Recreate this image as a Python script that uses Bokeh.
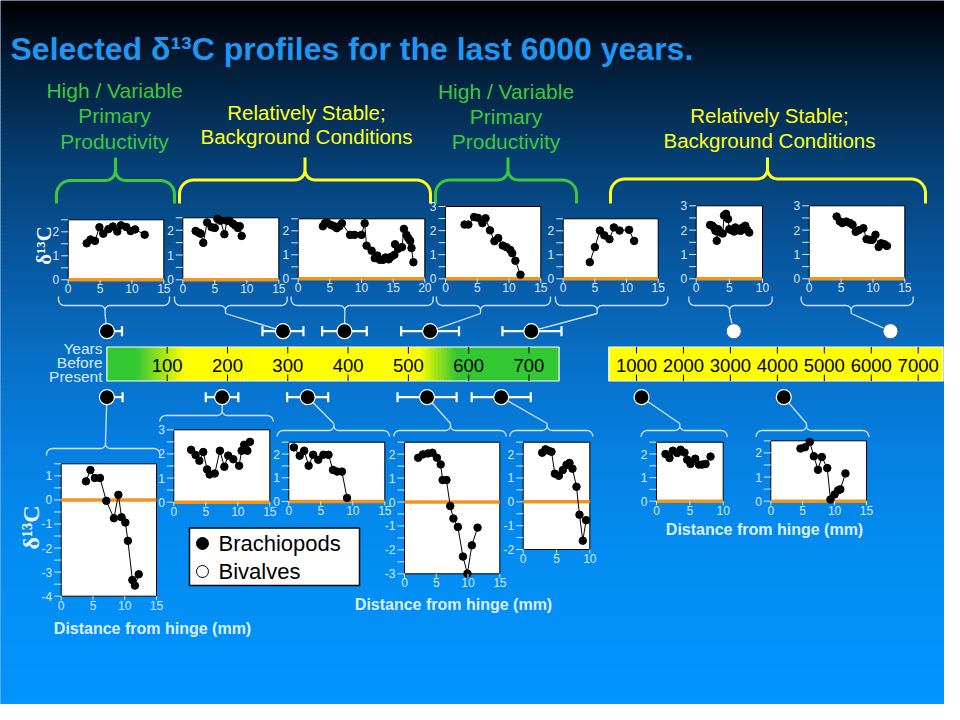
import numpy as np
from bokeh.plotting import figure
from bokeh.models import Range1d
from bokeh.core.properties import value
from bokeh.embed import file_html
from bokeh.resources import INLINE

# ---------------- data ----------------
T1_x = [2.9, 3.5, 4.2, 4.9, 5.5, 6.3, 7.0, 7.7, 8.3, 9.1, 9.8, 10.5, 12.0]
T1_y = [1.52, 1.68, 1.62, 2.19, 1.92, 2.11, 2.22, 2.01, 2.27, 2.20, 2.03, 2.10, 1.88]
T2_x = [2.0, 2.5, 2.8, 3.2, 3.8, 4.5, 5.0, 5.4, 5.9, 6.5, 6.9, 7.3, 7.8, 8.2, 8.6, 8.9, 9.2]
T2_y = [1.97, 1.90, 1.86, 1.49, 2.31, 2.12, 2.09, 2.46, 2.38, 1.84, 2.38, 2.38, 2.27, 2.19, 2.09, 2.16, 1.77]
T3_x = [3.9, 4.2, 4.6, 5.2, 5.7, 6.1, 6.5, 6.9, 8.2, 8.9, 10.0, 10.5, 10.8, 11.6, 12.1, 12.5, 12.9, 13.4,
        13.8, 14.3, 14.7, 15.2, 15.3, 15.8, 16.4, 16.7, 17.1, 17.4, 17.7, 17.9, 18.2]
T3_y = [2.19, 2.31, 2.33, 2.24, 2.19, 2.11, 2.19, 2.31, 1.83, 1.83, 1.83, 2.31, 1.38, 1.17, 0.86, 0.97, 0.79, 0.79,
        0.89, 0.81, 0.92, 1.00, 1.44, 1.25, 1.32, 2.08, 1.83, 1.69, 1.58, 1.28, 0.69]
T4_x = [3.0, 3.6, 4.5, 5.1, 5.8, 6.3, 7.0, 7.7, 8.3, 9.0, 9.6, 10.2, 10.5, 11.0, 11.8]
T4_y = [2.25, 2.25, 2.56, 2.53, 2.31, 2.51, 2.01, 1.56, 1.69, 1.38, 1.31, 1.20, 1.06, 0.75, 0.17]
T5_x = [4.2, 5.0, 5.8, 6.5, 7.3, 8.0, 8.9, 10.4, 11.2]
T5_y = [0.69, 1.32, 2.01, 1.81, 1.65, 2.14, 2.01, 2.04, 1.58]
T6_x = [2.1, 2.4, 2.7, 2.9, 3.1, 3.3, 3.7, 4.0, 4.2, 4.5, 4.8, 5.0, 5.3, 5.7, 5.9, 6.3, 6.7, 7.0, 7.4, 7.7, 8.0]
T6_y = [2.21, 2.19, 2.11, 1.97, 1.56, 2.04, 1.90, 1.86, 2.60, 2.67, 2.46, 2.04, 2.00, 1.94, 2.11, 2.00, 1.97,
        2.11, 2.18, 2.00, 1.90]
T7_x = [4.3, 4.8, 5.2, 5.8, 6.4, 6.8, 7.3, 7.8, 8.5, 9.0, 9.5, 9.9, 10.4, 10.9, 11.3, 11.8, 12.2]
T7_y = [2.56, 2.36, 2.29, 2.35, 2.29, 2.22, 1.93, 2.00, 2.08, 1.63, 1.60, 1.60, 1.81, 1.31, 1.46, 1.42, 1.35]

B1_x = [3.9, 4.6, 5.3, 6.1, 7.1, 8.3, 9.0, 9.5, 10.1, 10.5, 11.2, 11.6, 12.2]
B1_y = [0.77, 1.24, 0.91, 0.91, -0.04, -0.76, 0.21, -0.72, -0.94, -1.70, -3.33, -3.56, -3.09]
B2_x = [2.7, 3.4, 4.0, 4.6, 5.2, 5.6, 6.4, 7.2, 7.9, 8.5, 9.3, 10.2, 10.6, 11.0, 11.5, 11.9]
B2_y = [2.17, 1.96, 1.72, 2.08, 1.36, 1.15, 1.19, 2.13, 1.47, 1.93, 1.78, 1.51, 2.13, 2.38, 2.13, 2.50]
B3_x = [0.8, 1.7, 2.4, 3.1, 3.8, 4.6, 5.4, 6.2, 6.9, 7.55, 8.3, 9.1]
B3_y = [2.28, 1.93, 2.14, 1.51, 1.97, 1.76, 1.97, 1.97, 1.33, 1.26, 1.26, 0.15]
B4_x = [2.15, 2.9, 3.7, 4.4, 5.1, 5.7, 6.0, 6.6, 7.2, 7.7, 8.4, 9.2, 9.9, 10.6, 11.5]
B4_y = [1.85, 1.99, 2.03, 2.06, 1.85, 1.57, 0.92, 0.92, -0.17, -0.69, -1.04, -2.28, -2.99, -1.81, -1.07]
B5_x = [2.85, 3.35, 3.75, 4.25, 4.75, 5.35, 5.95, 6.5, 6.95, 7.4, 8.0, 8.45, 8.95, 9.45]
B5_y = [2.06, 2.20, 2.15, 2.10, 1.18, 1.09, 1.33, 1.55, 1.63, 1.39, 0.63, -0.54, -1.63, -0.77]
B6_x = [1.35, 1.95, 2.45, 3.1, 3.6, 4.2, 4.6, 5.1, 5.8, 6.35, 6.85, 7.35, 8.1]
B6_y = [2.00, 1.83, 2.14, 2.04, 2.18, 2.06, 1.76, 1.58, 1.80, 1.55, 1.55, 1.58, 1.89]
B7_x = [4.65, 5.35, 6.1, 6.75, 7.4, 8.0, 8.85, 9.35, 10.0, 10.55, 10.9, 11.7]
B7_y = [2.18, 2.23, 2.45, 1.86, 1.30, 1.83, 1.37, 0.07, 0.28, 0.45, 0.49, 1.15]

# timeline (years before present)
recent_ticks = [100, 200, 300, 400, 500, 600, 700]
old_ticks = [1000, 2000, 3000, 4000, 5000, 6000, 7000]
top_ages = [0, 292, 394, 536, 704]
top_err_lo = [0, 34, 37, 48, 48]
top_err_hi = [25, 34, 37, 48, 50]
top_bivalve_ages = [3072, 6409]
bot_ages = [0, 191, 333, 531, 654]
bot_err_lo = [0, 27, 34, 49, 49]
bot_err_hi = [26, 27, 34, 49, 49]
bot_old_ages = [1107, 4137]

# ---------------- styles ----------------
FONT = value("Liberation Sans")
SERIF = value("Liberation Serif")
TICK_C = "#d4e8ff"
LINE_C = "#cfe4fb"
ORANGE = "#f0961e"
GREEN = "#3cc83c"
YELLOW = "#ffff22"

p = figure(width=944, height=704, x_range=Range1d(0, 944), y_range=Range1d(704, 0),
           output_backend="svg", toolbar_location=None, min_border=0,
           x_axis_location=None, y_axis_location=None)
p.grid.visible = False
p.outline_line_color = None
p.background_fill_color = "#0a5aa0"
p.border_fill_color = "#0a5aa0"

# background vertical gradient
stops_y = [0, 25, 60, 150, 250, 350, 450, 550, 720]
stops_c = [(0, 0, 0), (2, 10, 22), (3, 28, 52), (6, 60, 110), (8, 86, 156),
           (8, 110, 196), (6, 128, 226), (4, 141, 242), (2, 150, 255)]
band_top = np.arange(0, 720, 4)
cols = []
for yy in band_top + 2:
    c = [int(np.interp(yy, stops_y, [s[k] for s in stops_c])) for k in range(3)]
    cols.append("#%02x%02x%02x" % tuple(c))
p.quad(left=0, right=960, top=band_top, bottom=band_top + 4.6, fill_color=cols, line_color=None)


def brace(x0, x1, xt, y_end, y_mid, y_tip, rc, rt):
    s = 1 if y_tip < y_mid else -1
    u_end = (y_mid - y_end) * s
    u_tip = (y_mid - y_tip) * s
    pts = [(x0, u_end)]

    def arc(cx, cu, r, t0, t1, n=10):
        for t in np.linspace(t0, t1, n):
            pts.append((cx + r * np.cos(t), cu + r * np.sin(t)))
    arc(x0 + rc, -rc, rc, np.pi, np.pi / 2)
    arc(xt - rt, rt, rt, -np.pi / 2, 0)
    pts.append((xt, u_tip))
    arc(xt + rt, rt, rt, np.pi, 1.5 * np.pi)
    arc(x1 - rc, -rc, rc, np.pi / 2, 0)
    pts.append((x1, u_end))
    return [q[0] for q in pts], [y_mid - s * q[1] for q in pts]


# big coloured braces
big = [(56, 174, 115, GREEN, 180), (179, 430, 304.5, YELLOW, 179.5),
       (435, 576, 507.5, GREEN, 179.5), (610, 925, 767, YELLOW, 178.5)]
for x0, x1, xt, c, ym in big:
    bx, by = brace(x0, x1, xt, 203, ym, 157, 14, 10)
    p.line(bx, by, line_color=c, line_width=3)

# timeline mapping (subplots)
TL1 = dict(src=(0, 750), tgt=(106.4, 558.6))
TL2 = dict(src=(0, 8000), tgt=(589.05, 964.65))


def age_px(a):
    m = TL1 if a <= 750 else TL2
    return m["tgt"][0] + (a - m["src"][0]) * (m["tgt"][1] - m["tgt"][0]) / (m["src"][1] - m["src"][0])


ROW_TOP, ROW_BOT = 330.7, 396.7

# small braces and connectors
top_braces = [(58, 169, 104.5), (174, 286.7, 225), (290.7, 432.7, 344.3), (436, 550, 480),
              (555, 667.3, 596.7), (688.3, 771.7, 729), (800.7, 912.7, 850.7)]
top_targets = top_ages + top_bivalve_ages
xs_all, ys_all = [], []
for (x0, x1, xt), a in zip(top_braces, top_targets):
    bx, by = brace(x0, x1, xt, 296, 305, 313, 6, 5)
    xs_all.append(bx); ys_all.append(by)
    xs_all.append([xt, age_px(a)]); ys_all.append([313, ROW_TOP])
bot_braces = [(46, 159.3, 105, 455, 448, 441), (159.3, 272.7, 221.7, 421, 415, 408),
              (276.7, 389, 333.3, 436, 430, 423), (393.3, 505.7, 450, 436, 430, 423),
              (509.3, 592.3, 546.7, 436, 430, 423), (640.7, 726.7, 679.3, 436.5, 430, 423),
              (755.7, 868.3, 806, 436.5, 430, 423)]
bot_targets = bot_ages + bot_old_ages
for (x0, x1, xt, ye, ym, yt), a in zip(bot_braces, bot_targets):
    bx, by = brace(x0, x1, xt, ye, ym, yt, 6, 5)
    xs_all.append(bx); ys_all.append(by)
    xs_all.append([xt, age_px(a)]); ys_all.append([yt, ROW_BOT])
p.multi_line(xs_all, ys_all, line_color=LINE_C, line_width=1.3)

tl1 = p.subplot(x_source=Range1d(*TL1["src"]), y_source=Range1d(704, 0),
                x_target=Range1d(*TL1["tgt"]), y_target=Range1d(704, 0))
tl2 = p.subplot(x_source=Range1d(*TL2["src"]), y_source=Range1d(704, 0),
                x_target=Range1d(*TL2["tgt"]), y_target=Range1d(704, 0))

BAR_T, BAR_B = 346.5, 380.5
# gradient bar (0-750 years)
g_years = [0, 50, 130, 520, 580, 750]
g_cols = [(51, 200, 51), (51, 200, 51), (255, 255, 0), (255, 255, 0), (51, 200, 51), (51, 200, 51)]
steps = np.arange(0, 750, 5)
bc = []
for yv in steps + 2.5:
    c = [int(np.interp(yv, g_years, [q[k] for q in g_cols])) for k in range(3)]
    bc.append("#%02x%02x%02x" % tuple(c))
tl1.quad(left=steps, right=np.minimum(steps + 5.6, 750), top=BAR_T, bottom=BAR_B, fill_color=bc, line_color=None)
tl1.quad(left=[0], right=[750], top=[BAR_T], bottom=[BAR_B], fill_color=None, line_color="white", line_width=1.2)
tl2.quad(left=[410], right=[7530], top=[BAR_T], bottom=[BAR_B], fill_color="#ffff00", line_color="white", line_width=1.2)
for tl, ticks in ((tl1, recent_ticks), (tl2, old_ticks)):
    n = len(ticks)
    tl.segment(x0=ticks, x1=ticks, y0=[BAR_T] * n, y1=[BAR_T + 6.5] * n, line_color="black", line_width=1)
    tl.segment(x0=ticks, x1=ticks, y0=[BAR_B - 6.5] * n, y1=[BAR_B] * n, line_color="black", line_width=1)
    tl.text(x=ticks, y=[364.5] * n, text=[str(t) for t in ticks], text_font=FONT, text_font_size="18.5px",
            text_color="black", text_align="center", text_baseline="middle")

# error bars + markers
for ages, lo, hi, row in ((top_ages, top_err_lo, top_err_hi, ROW_TOP), (bot_ages, bot_err_lo, bot_err_hi, ROW_BOT)):
    a = np.array(ages, float)
    l = a - np.array(lo)
    h = a + np.array(hi)
    n = len(a)
    tl1.segment(x0=l, x1=h, y0=[row] * n, y1=[row] * n, line_color="white", line_width=2.2)
    tl1.segment(x0=l, x1=l, y0=[row - 5] * n, y1=[row + 5] * n, line_color="white", line_width=2.2)
    tl1.segment(x0=h, x1=h, y0=[row - 5] * n, y1=[row + 5] * n, line_color="white", line_width=2.2)
    tl1.scatter(x=a, y=[row] * n, size=15, fill_color="black", line_color="white", line_width=1.2)
tl2.scatter(x=bot_old_ages, y=[ROW_BOT] * 2, size=15, fill_color="black", line_color="white", line_width=1.2)
tl2.scatter(x=top_bivalve_ages, y=[ROW_TOP] * 2, size=15, fill_color="white", line_color="#3a5f88", line_width=1)

# ---------------- profile panels ----------------
panels = [
    (T1_x, T1_y, (67.7, 163.3, 219.3, 279.3), (0, 15), (0, 2.5), [0, 5, 10, 15]),
    (T2_x, T2_y, (182.3, 278.3, 217.3, 279.3), (0, 15), (0, 2.5), [0, 5, 10, 15]),
    (T3_x, T3_y, (297.7, 424.3, 218.3, 278.3), (0, 20), (0, 2.5), [0, 5, 10, 15, 20]),
    (T4_x, T4_y, (445.0, 540.3, 206.0, 278.3), (0, 15), (0, 3), [0, 5, 10, 15]),
    (T5_x, T5_y, (562.7, 657.7, 218.3, 278.3), (0, 15), (0, 2.5), [0, 5, 10, 15]),
    (T6_x, T6_y, (695.7, 762.0, 205.3, 278.3), (0, 10), (0, 3), [0, 5, 10]),
    (T7_x, T7_y, (808.7, 904.3, 205.3, 278.3), (0, 15), (0, 3), [0, 5, 10, 15]),
    (B1_x, B1_y, (60.7, 156.0, 463.3, 595.7), (0, 15), (-4, 1.5), [0, 5, 10, 15]),
    (B2_x, B2_y, (173.3, 269.3, 429.3, 501.7), (0, 15), (0, 3), [0, 5, 10, 15]),
    (B3_x, B3_y, (288.3, 384.3, 441.7, 501.0), (0, 15), (0, 2.5), [0, 5, 10, 15]),
    (B4_x, B4_y, (404.0, 499.3, 441.7, 573.3), (0, 15), (-3, 2.5), [0, 5, 10, 15]),
    (B5_x, B5_y, (522.7, 589.3, 441.7, 549.0), (0, 10), (-2, 2.5), [0, 5, 10]),
    (B6_x, B6_y, (656.0, 722.7, 441.7, 500.7), (0, 10), (0, 2.5), [0, 5, 10]),
    (B7_x, B7_y, (770.3, 866.0, 440.3, 500.7), (0, 15), (0, 2.5), [0, 5, 10, 15]),
]

for xs, ys, (L, R, T, B), xr, yr, xticks in panels:
    s = p.subplot(x_source=Range1d(*xr), y_source=Range1d(*yr),
                  x_target=Range1d(L, R), y_target=Range1d(B, T))
    ux = (xr[1] - xr[0]) / (R - L)
    uy = (yr[1] - yr[0]) / (B - T)
    s.quad(left=[xr[0]], right=[xr[1]], bottom=[yr[0]], top=[yr[1]],
           fill_color="white", line_color="black", line_width=1)
    s.segment(x0=[xr[0]], x1=[xr[1]], y0=[0], y1=[0], line_color=ORANGE, line_width=3.5)
    s.line(xs, ys, line_color="black", line_width=1)
    s.scatter(xs, ys, size=7.5, fill_color="black", line_color="black")
    yt = np.arange(yr[0], yr[1] + 1e-9, 0.5)
    s.segment(x0=[xr[0] - 7 * ux] * len(yt), x1=[xr[0]] * len(yt), y0=yt, y1=yt,
              line_color=TICK_C, line_width=1)
    ylab = list(range(int(np.ceil(yr[0])), int(np.floor(yr[1])) + 1))
    s.text(x=[xr[0]] * len(ylab), y=ylab, text=[str(v) for v in ylab], x_offset=-9,
           text_font=FONT, text_font_size="12px", text_color=TICK_C, text_align="right", text_baseline="middle")
    s.segment(x0=xticks, x1=xticks, y0=[yr[0]] * len(xticks), y1=[yr[0] - 4 * uy] * len(xticks),
              line_color=TICK_C, line_width=1)
    s.text(x=xticks, y=[yr[0]] * len(xticks), text=[str(v) for v in xticks], y_offset=4.5,
           text_font=FONT, text_font_size="12px", text_color=TICK_C, text_align="center", text_baseline="top")

# ---------------- texts ----------------
p.text(x=[10], y=[48], text=["Selected \u03b4\u00b9\u00b3C profiles for the last 6000 years."],
       text_font=FONT, text_font_style="bold", text_font_size="32px", text_color="#1f97f2",
       text_align="left", text_baseline="middle")

p.text(x=[114, 114, 114, 505.5, 505.5, 505.5], y=[90, 115, 140.5, 90.5, 116, 140.5],
       text=["High / Variable", "Primary", "Productivity"] * 2,
       text_font=FONT, text_font_size="21px", text_color=GREEN, text_align="center", text_baseline="middle")
p.text(x=[306, 306, 769, 769], y=[111.5, 136, 115, 140],
       text=["Relatively Stable;", "Background Conditions"] * 2,
       text_font=FONT, text_font_size="20.5px", text_color=YELLOW, text_align="center", text_baseline="middle")

p.text(x=[102, 102, 102], y=[348, 362, 376], text=["Years", "Before", "Present"],
       text_font=FONT, text_font_size="15.5px", text_color="#d8ecff", text_align="right", text_baseline="middle")

p.text(x=[43, 30], y=[245, 527], text=["\u03b4\u00b9\u00b3C", "\u03b4\u00b9\u00b3C"], angle=np.pi / 2,
       text_font=SERIF, text_font_style="bold", text_font_size=["21px", "24px"], text_color="#eef4ff",
       text_align="center", text_baseline="middle")

p.text(x=[152, 453, 764], y=[628, 604, 528.5], text=["Distance from hinge (mm)"] * 3,
       text_font=FONT, text_font_style="bold", text_font_size="16px", text_color="#dceeff",
       text_align="center", text_baseline="middle")

# legend box
p.quad(left=[189], right=[359], top=[527.5], bottom=[585], fill_color="white", line_color="black", line_width=1.5)
p.scatter(x=[202, 202], y=[543, 571], size=12, fill_color=["black", "white"], line_color="black", line_width=1)
p.text(x=[218, 218], y=[543, 571], text=["Brachiopods", "Bivalves"], text_font=FONT, text_font_size="22px",
       text_color="black", text_align="left", text_baseline="middle")

open("out.html", "w").write(file_html(p, INLINE))
